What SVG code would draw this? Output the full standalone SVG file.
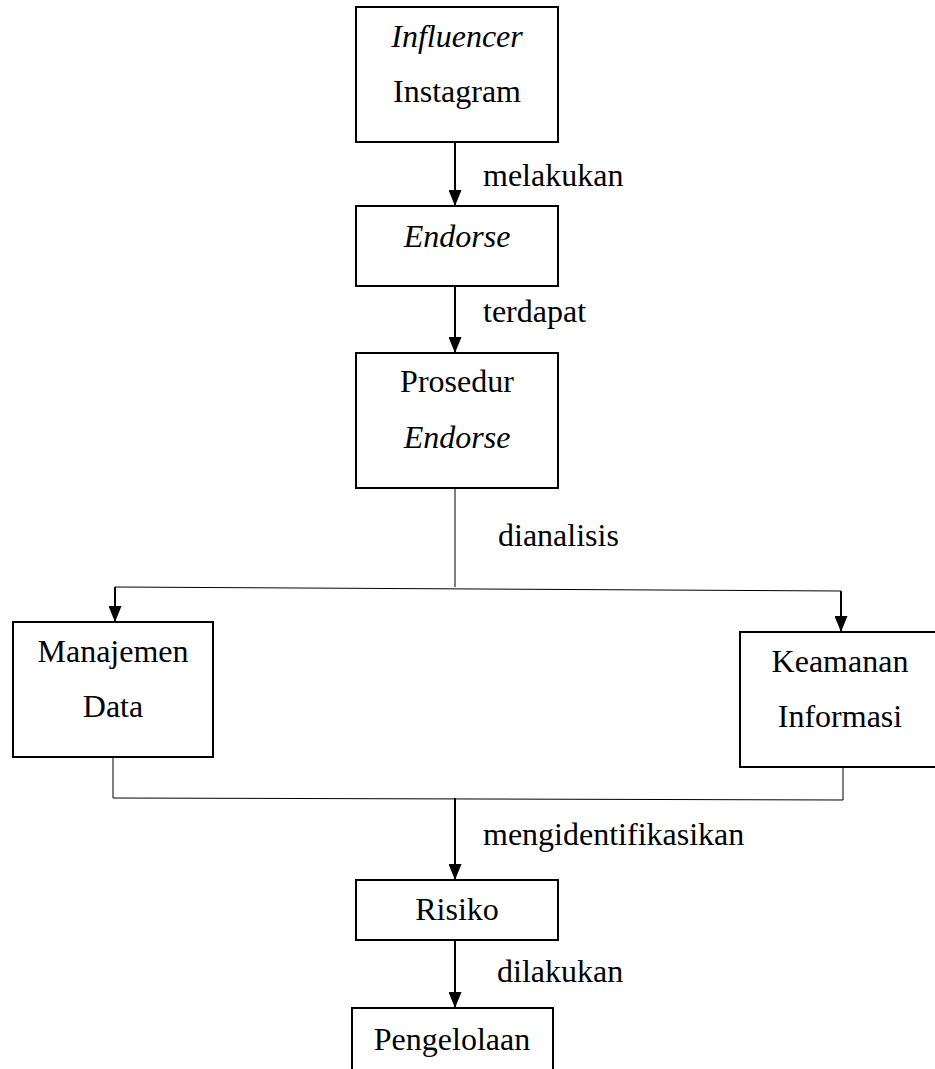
<svg xmlns="http://www.w3.org/2000/svg" width="935" height="1069" viewBox="0 0 935 1069">
<style>
.box{fill:#fff;stroke:#000;stroke-width:2}
.thick{stroke:#000;stroke-width:2;fill:none}
.thin{stroke:#000;stroke-width:1;fill:none}
</style>
<defs>
<marker id="ah" markerUnits="userSpaceOnUse" markerWidth="16" markerHeight="13" refX="16" refY="6.5" orient="auto">
<path d="M0,0 L16,6.5 L0,13 Z" fill="#000"/>
</marker>
</defs>
<rect width="935" height="1069" fill="#fff"/>
<g id="connectors">
<line class="thick" x1="455" y1="142" x2="455" y2="206" marker-end="url(#ah)"/>
<line class="thick" x1="455" y1="286" x2="455" y2="353" marker-end="url(#ah)"/>
<line class="thin" x1="455" y1="488" x2="455" y2="587"/>
<line class="thin" x1="115" y1="587" x2="841" y2="591"/>
<line class="thick" x1="115" y1="587" x2="115" y2="622" marker-end="url(#ah)"/>
<line class="thick" x1="841" y1="591" x2="841" y2="632" marker-end="url(#ah)"/>
<polyline class="thin" points="113,757 113,798 843,800 843,767"/>
<line class="thick" x1="455" y1="798" x2="455" y2="880" marker-end="url(#ah)"/>
<line class="thick" x1="455" y1="940" x2="455" y2="1008" marker-end="url(#ah)"/>
<g font-family="Liberation Serif" font-size="32" fill="#000">
<text x="483" y="186">melakukan</text>
<text x="483" y="322">terdapat</text>
<text x="498" y="546">dianalisis</text>
<text x="483" y="845">mengidentifikasikan</text>
<text x="497" y="982">dilakukan</text>
</g>
</g>
<g font-family="Liberation Serif" font-size="32" fill="#000" text-anchor="middle">
<g id="influencer">
<rect class="box" x="356" y="7" width="202" height="135"/>
<text font-style="italic" x="457" y="47">Influencer</text>
<text x="457" y="102">Instagram</text>
</g>
<g id="endorse">
<rect class="box" x="356" y="206" width="202" height="80"/>
<text font-style="italic" x="457" y="247">Endorse</text>
</g>
<g id="prosedur">
<rect class="box" x="356" y="353" width="202" height="135"/>
<text x="457" y="392">Prosedur</text>
<text font-style="italic" x="457" y="448">Endorse</text>
</g>
<g id="manajemen">
<rect class="box" x="13" y="622" width="200" height="135"/>
<text x="113" y="662">Manajemen</text>
<text x="113" y="717">Data</text>
</g>
<g id="keamanan">
<rect class="box" x="740" y="632" width="200" height="135"/>
<text x="840" y="672">Keamanan</text>
<text x="840" y="727">Informasi</text>
</g>
<g id="risiko">
<rect class="box" x="356" y="880" width="202" height="60"/>
<text x="457" y="920">Risiko</text>
</g>
<g id="pengelolaan">
<rect class="box" x="352" y="1008" width="201" height="80"/>
<text x="452" y="1050">Pengelolaan</text>
</g>
</g>
</svg>
